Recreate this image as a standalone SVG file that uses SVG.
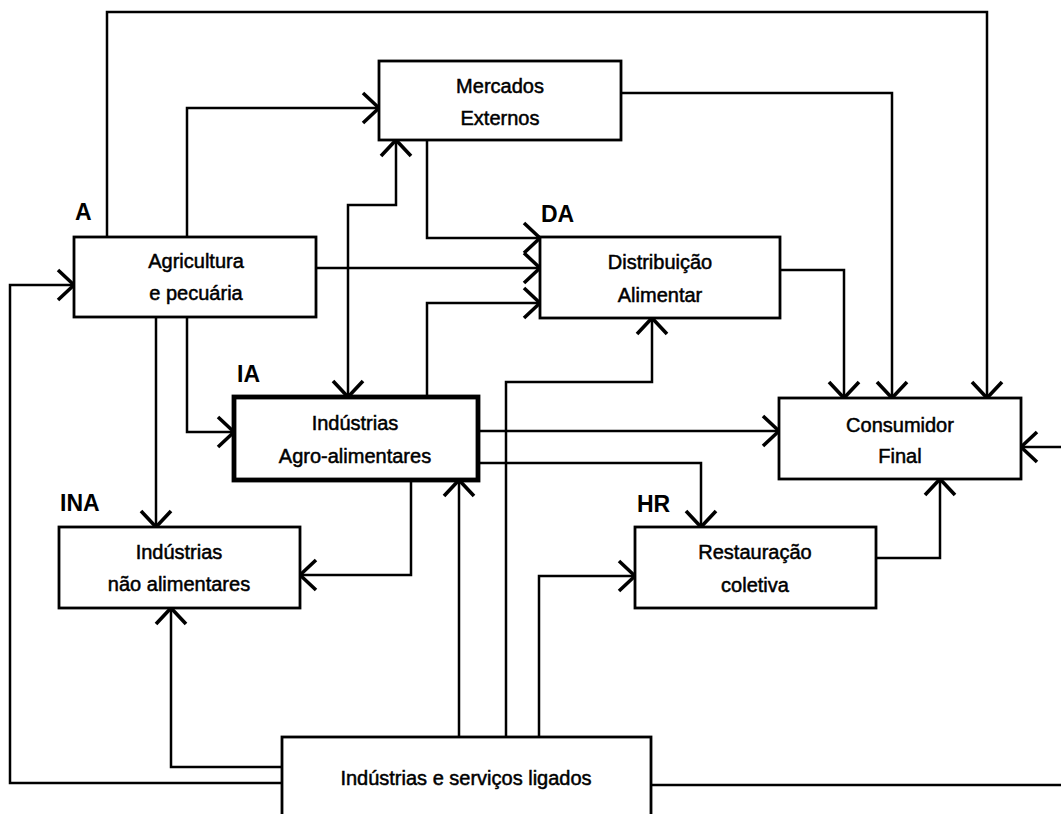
<svg xmlns="http://www.w3.org/2000/svg" width="1061" height="814" viewBox="0 0 1061 814">
  <style>
    .box { fill: #fff; stroke: #000; stroke-width: 2.8; }
    .box.main { stroke-width: 4.8; }
    .txt { font-family: "Liberation Sans", Arial, sans-serif; font-size: 20px; fill: #000; stroke: #000; stroke-width: 0.5; text-anchor: middle; }
    .tag { font-family: "Liberation Sans", Arial, sans-serif; font-size: 23px; font-weight: bold; fill: #000; }
    .link { fill: none; stroke: #000; stroke-width: 2.5; marker-end: url(#arr); }
    .both { marker-start: url(#arrS); }
  </style>
  <defs>
    <marker id="arr" markerUnits="userSpaceOnUse" viewBox="-20 -18 22 36" refX="0" refY="0" markerWidth="22" markerHeight="36" orient="auto">
      <path d="M-16,-15 L0,0 L-16,15" fill="none" stroke="#000" stroke-width="3.6"/>
    </marker>
    <marker id="arrS" markerUnits="userSpaceOnUse" viewBox="-2 -18 22 36" refX="0" refY="0" markerWidth="22" markerHeight="36" orient="auto">
      <path d="M16,-15 L0,0 L16,15" fill="none" stroke="#000" stroke-width="3.6"/>
    </marker>
  </defs>
  <rect width="1061" height="814" fill="#fff"/>

  <g id="connectors">
    <path class="link" d="M107,237 V12 H987 V398"/>
    <path class="link" d="M187,237 V108 H379"/>
    <path class="link both" d="M348,397 V205 H396 V140"/>
    <path class="link" d="M427,140 V238 H540"/>
    <path class="link" d="M316,268 H540"/>
    <path class="link" d="M427,397 V303 H540"/>
    <path class="link" d="M621,93 H892 V398"/>
    <path class="link" d="M780,270 H844 V398"/>
    <path class="link" d="M156,317 V527"/>
    <path class="link" d="M187,317 V432 H234"/>
    <path class="link" d="M478,431 H779"/>
    <path class="link" d="M478,463 H701 V527"/>
    <path class="link" d="M411,480 V575 H300"/>
    <path class="link" d="M876,558 H940 V479"/>
    <path class="link" d="M459,737 V480"/>
    <path class="link" d="M506,737 V382 H652 V318"/>
    <path class="link" d="M539,737 V576 H635"/>
    <path class="link" d="M282,767 H171 V608"/>
    <path class="link" d="M282,783 H10 V285 H74"/>
    <path class="link" d="M651,785 H1080 V447 H1021"/>
  </g>

  <g id="mercados">
    <rect class="box" x="379" y="61" width="242" height="79"/>
    <text class="txt" x="500" y="93">Mercados</text>
    <text class="txt" x="500" y="125">Externos</text>
  </g>

  <g id="agricultura">
    <rect class="box" x="74" y="237" width="242" height="80"/>
    <text class="tag" x="75" y="220">A</text>
    <text class="txt" x="196" y="268">Agricultura</text>
    <text class="txt" x="196" y="300">e pecuária</text>
  </g>

  <g id="distribuicao">
    <rect class="box" x="540" y="237" width="240" height="81"/>
    <text class="tag" x="541" y="222">DA</text>
    <text class="txt" x="660" y="269">Distribuição</text>
    <text class="txt" x="660" y="302">Alimentar</text>
  </g>

  <g id="agroalimentares">
    <rect class="box main" x="234" y="397" width="244" height="83"/>
    <text class="tag" x="237" y="382">IA</text>
    <text class="txt" x="355" y="430">Indústrias</text>
    <text class="txt" x="355" y="463">Agro-alimentares</text>
  </g>

  <g id="consumidor">
    <rect class="box" x="779" y="398" width="242" height="81"/>
    <text class="txt" x="900" y="432">Consumidor</text>
    <text class="txt" x="900" y="463">Final</text>
  </g>

  <g id="nao-alimentares">
    <rect class="box" x="59" y="527" width="241" height="81"/>
    <text class="tag" x="60" y="511">INA</text>
    <text class="txt" x="179" y="559">Indústrias</text>
    <text class="txt" x="179" y="591">não alimentares</text>
  </g>

  <g id="restauracao">
    <rect class="box" x="635" y="527" width="241" height="81"/>
    <text class="tag" x="637" y="512">HR</text>
    <text class="txt" x="755" y="559">Restauração</text>
    <text class="txt" x="755" y="592">coletiva</text>
  </g>

  <g id="servicos">
    <rect class="box" x="282" y="737" width="369" height="100"/>
    <text class="txt" x="466" y="785">Indústrias e serviços ligados</text>
  </g>
</svg>
